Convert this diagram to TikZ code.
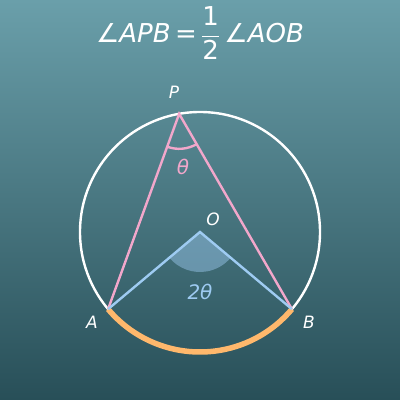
\documentclass[tikz,border=0pt]{standalone}
\usepackage{fontspec}
\setmainfont{DejaVu Sans}
\usetikzlibrary{calc}
\definecolor{bgtop}{HTML}{6A9FAA}
\definecolor{bgbot}{HTML}{284F58}
\definecolor{chordpink}{HTML}{F2A7CB}
\definecolor{radblue}{HTML}{9ECBF2}
\definecolor{arcorange}{HTML}{FFB86C}
\begin{document}
\begin{tikzpicture}[x=1pt, y=1pt]
\tikzset{every node/.style={text=white, inner sep=0pt}, ptlabel/.style={font=\fontsize{17}{20}\selectfont\itshape}, anglabel/.style={font=\fontsize{20}{24}\selectfont\itshape}, chord/.style={chordpink, line width=2.4pt}, radius line/.style={radblue, line width=2.4pt}}

% background
\shade [top color=bgtop, bottom color=bgbot] (0,0) rectangle (400,400);
\useasboundingbox (0,0) rectangle (400,400);

% points on the circle
\coordinate (O) at (200,168);
\coordinate (A) at ($(O)+(220:120)$);
\coordinate (B) at ($(O)+(320:120)$);
\coordinate (P) at ($(O)+(100:120)$);

% central angle
\fill [radblue, opacity=0.45] (O) -- ($(O)+(220:40)$) arc (220:320:40) -- cycle;

\draw [white, line width=2.4pt] (O) circle (120);
\draw [arcorange, line width=5.5pt] (A) arc (220:320:120);

\draw [chord] (A) -- (P) -- (B);
\draw [radius line] (A) -- (O) -- (B);
\draw [chordpink, line width=2.4pt] ($(P)+(250:35)$) arc (250:300:35);

\node [font=\fontsize{26}{30}\selectfont] (title) at (200,367) {\itshape ∠APB\,\upshape=\,$\displaystyle\frac{\mbox{1}}{\mbox{2}}$\,\itshape∠AOB};
\node [ptlabel] (Plabel) at (174,308) {P};
\node [ptlabel] (Olabel) at (213,181) {O};
\node [ptlabel] (Alabel) at (92,78) {A};
\node [ptlabel] (Blabel) at (309,78) {B};
\node [anglabel, text=chordpink] (theta) at (183,233) {θ};
\node [anglabel, text=radblue] (twotheta) at (200,108) {2θ};
\end{tikzpicture}
\end{document}
